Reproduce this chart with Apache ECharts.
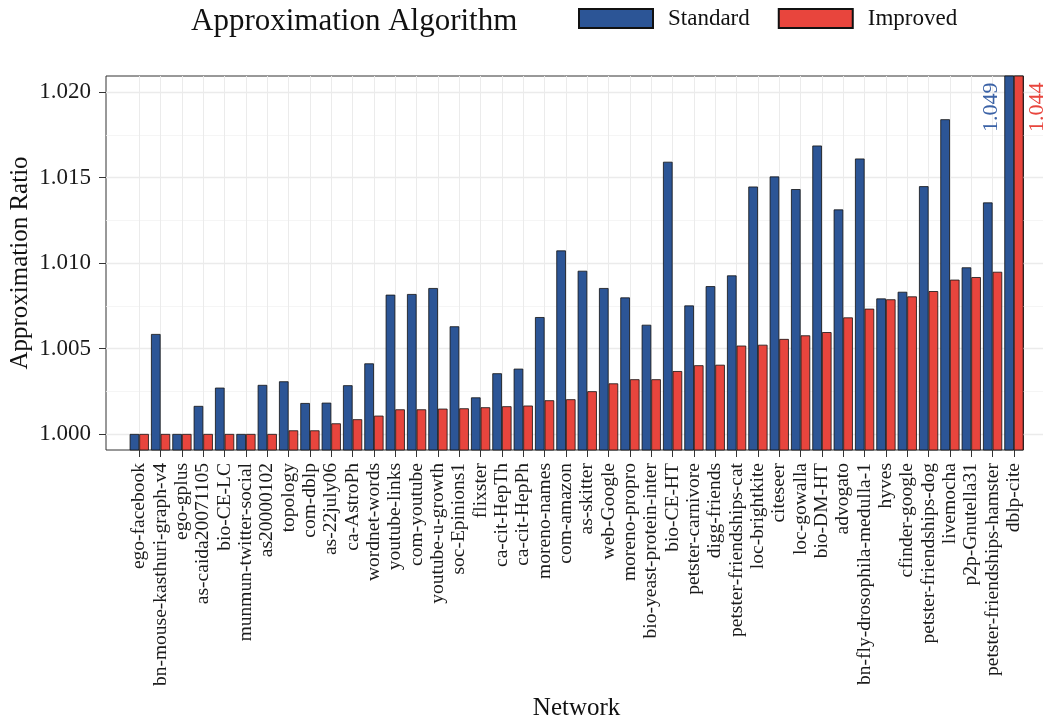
<!DOCTYPE html>
<html>
<head>
    <meta charset="UTF-8">
    <title>Approximation Ratio</title>
    <style>
        body, html {
            margin: 0;
            padding: 0;
            width: 100%;
            height: 100%;
            background: #fff;
        }
        #container {
            width: 1043px;
            height: 722px;
        }
    </style>
</head>
<body>
<div id="container"></div>

<script src="https://cdn.jsdelivr.net/npm/echarts@6/dist/echarts.min.js"></script>
<script>
    var networks = ['ego-facebook', 'bn-mouse-kasthuri-graph-v4', 'ego-gplus', 'as-caida20071105', 'bio-CE-LC',
        'munmun-twitter-social', 'as20000102', 'topology', 'com-dblp', 'as-22july06', 'ca-AstroPh', 'wordnet-words',
        'youtube-links', 'com-youtube', 'youtube-u-growth', 'soc-Epinions1', 'flixster', 'ca-cit-HepTh', 'ca-cit-HepPh',
        'moreno-names', 'com-amazon', 'as-skitter', 'web-Google', 'moreno-propro', 'bio-yeast-protein-inter', 'bio-CE-HT',
        'petster-carnivore', 'digg-friends', 'petster-friendships-cat', 'loc-brightkite', 'citeseer', 'loc-gowalla',
        'bio-DM-HT', 'advogato', 'bn-fly-drosophila-medulla-1', 'hyves', 'cfinder-google', 'petster-friendships-dog',
        'livemocha', 'p2p-Gnutella31', 'petster-friendships-hamster', 'dblp-cite'];

    var standard = [1.0000, 1.00585, 1.0000, 1.00164, 1.00271, 1.0000, 1.00287, 1.00308, 1.00181, 1.00183, 1.00285,
        1.00413, 1.00815, 1.00819, 1.00854, 1.00630, 1.00214, 1.00355, 1.00382, 1.00684, 1.01074, 1.00955, 1.00854,
        1.00799, 1.00639, 1.01593, 1.00752, 1.00865, 1.00928, 1.01448, 1.01507, 1.01433, 1.01688, 1.01314, 1.01612,
        1.00793, 1.00832, 1.01450, 1.01842, 1.00975, 1.01355, 1.049];

    var improved = [1.0000, 1.0000, 1.0000, 1.0000, 1.0000, 1.0000, 1.0000, 1.00021, 1.00021, 1.00062, 1.00086,
        1.00107, 1.00144, 1.00144, 1.00148, 1.00150, 1.00156, 1.00162, 1.00166, 1.00197, 1.00203, 1.00250, 1.00296,
        1.00320, 1.00320, 1.00368, 1.00402, 1.00405, 1.00517, 1.00522, 1.00556, 1.00577, 1.00596, 1.00682, 1.00733,
        1.00788, 1.00805, 1.00836, 1.00903, 1.00918, 1.00949, 1.044];

    var yTicks = [1.000, 1.005, 1.010, 1.015, 1.020];
    var yMinorTicks = [1.0025, 1.0075, 1.0125, 1.0175];
    var yMin = 0.99906, yMax = 1.02095;

    var font = '"Liberation Serif", "DejaVu Serif", serif';
    var blue = '#2c5596', red = '#e8453d';

    // only the clipped last bar gets its value written beside it
    function withTopLabel(values, label) {
        return values.map(function (v, i) {
            if (i !== values.length - 1) return v;
            return {value: v, label: label};
        });
    }

    var chart = echarts.init(document.getElementById('container'));
    var option = {
        animation: false,
        textStyle: {fontFamily: font},
        title: {
            text: 'Approximation Algorithm',
            left: 191,
            top: 6,
            padding: 0,
            textStyle: {fontFamily: font, fontSize: 31, fontWeight: 'normal', color: '#111'}
        },
        legend: {
            data: ['Standard', 'Improved'],
            left: 578,
            top: 7,
            padding: 0,
            itemWidth: 74,
            itemHeight: 19,
            itemGap: 28,
            icon: 'rect',
            textStyle: {fontFamily: font, fontSize: 23, color: '#111', padding: [0, 0, 0, 10]}
        },
        grid: [
            // background panel with horizontal grid lines
            {left: 106, right: -30, top: 76, bottom: 272, outerBoundsMode: 'none'},
            // bars
            {left: 128.6, right: 18.4, top: 76, bottom: 272, outerBoundsMode: 'none'},
            // panel frame
            {left: 106, right: 19.5, top: 76, bottom: 272, outerBoundsMode: 'none', show: true,
                borderColor: '#333', borderWidth: 1, backgroundColor: 'transparent'}
        ],
        xAxis: [
            {type: 'value', gridIndex: 0, show: false},
            {
                type: 'category',
                gridIndex: 1,
                data: networks,
                name: 'Network',
                nameLocation: 'middle',
                nameGap: 246,
                nameMoveOverlap: false,
                nameTextStyle: {fontFamily: font, fontSize: 25, color: '#111'},
                axisLine: {show: false},
                axisTick: {show: true, alignWithLabel: true, interval: 0, length: 7, lineStyle: {color: '#333'}},
                axisLabel: {interval: 0, rotate: 90, margin: 13, fontFamily: font, fontSize: 19.5, color: '#1a1a1a'},
                splitLine: {show: true, interval: 0, alignWithLabel: true, lineStyle: {color: '#ebebeb', width: 1}}
            },
            {type: 'value', gridIndex: 2, show: false}
        ],
        yAxis: [
            {
                type: 'value',
                gridIndex: 0,
                min: yMin,
                max: yMax,
                name: 'Approximation Ratio',
                nameLocation: 'middle',
                nameGap: 73,
                nameMoveOverlap: false,
                nameTextStyle: {fontFamily: font, fontSize: 25, color: '#111'},
                axisLine: {show: false},
                axisTick: {show: true, length: 7, customValues: yTicks, lineStyle: {color: '#333'}},
                axisLabel: {
                    margin: 15, fontFamily: font, fontSize: 23, color: '#1a1a1a', customValues: yTicks,
                    formatter: function (v) { return v.toFixed(3); }
                },
                splitLine: {show: true, lineStyle: {color: '#ebebeb', width: 1.3}}
            },
            {
                type: 'value',
                gridIndex: 0,
                min: yMin,
                max: yMax,
                axisLine: {show: false},
                axisTick: {show: false, customValues: yMinorTicks},
                axisLabel: {show: false},
                splitLine: {show: true, lineStyle: {color: '#f2f2f2', width: 0.8}}
            },
            {type: 'value', gridIndex: 1, min: yMin, max: yMax, show: false},
            {type: 'value', gridIndex: 2, min: yMin, max: yMax, show: false}
        ],
        series: [
            {
                name: 'Standard',
                type: 'bar',
                xAxisIndex: 1,
                yAxisIndex: 2,
                barWidth: 9.6,
                barGap: '0%',
                itemStyle: {color: blue, borderColor: '#111', borderWidth: 0.8},
                data: withTopLabel(standard, {
                    show: true, position: [-2.5, 7], rotate: 90, align: 'right', verticalAlign: 'bottom',
                    fontFamily: font, fontSize: 22, color: '#3b62a6',
                    formatter: function (p) { return p.value.toFixed(3); }
                })
            },
            {
                name: 'Improved',
                type: 'bar',
                xAxisIndex: 1,
                yAxisIndex: 2,
                barWidth: 9.6,
                barGap: '0%',
                itemStyle: {color: red, borderColor: '#111', borderWidth: 0.8},
                data: withTopLabel(improved, {
                    show: true, position: [12.5, 7], rotate: 90, align: 'right', verticalAlign: 'top',
                    fontFamily: font, fontSize: 22, color: red,
                    formatter: function (p) { return p.value.toFixed(3); }
                })
            }
        ]
    };
    chart.setOption(option);
</script>
</body>
</html>
